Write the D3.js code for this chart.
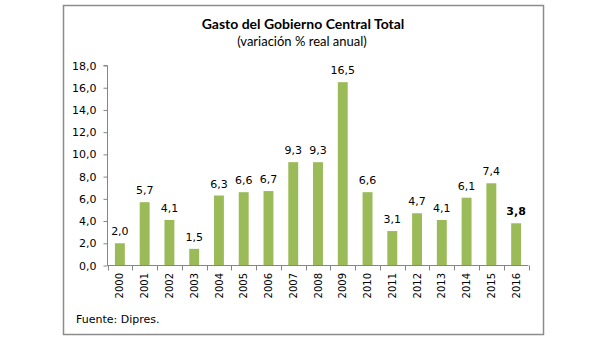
<!DOCTYPE html>
<html>
<head>
<meta charset="utf-8">
<script src="https://cdn.jsdelivr.net/npm/d3@7/dist/d3.min.js"></script>
<style>
  body { margin: 0; background: #fff; }
  svg { display: block; }
  .axis path, .axis line { stroke: #868686; }
</style>
</head>
<body>
<svg id="chart" width="608" height="340"></svg>
<script>
// gasto del gobierno central, variacion % real anual
var years = ["2000","2001","2002","2003","2004","2005","2006","2007","2008","2009","2010","2011","2012","2013","2014","2015","2016"];
var gasto = [2.0, 5.7, 4.1, 1.5, 6.3, 6.6, 6.7, 9.3, 9.3, 16.5, 6.6, 3.1, 4.7, 4.1, 6.1, 7.4, 3.8];
var yTicks = [0, 2, 4, 6, 8, 10, 12, 14, 16, 18];

var svg = d3.select("#chart");
var es = d3.formatLocale({decimal: ",", thousands: ".", grouping: [3], currency: ["$", ""]});
var fmt = es.format(".1f");

// marco del grafico
svg.append("rect")
  .attr("x", 63.5).attr("y", 5.5)
  .attr("width", 480).attr("height", 329)
  .attr("fill", "#fff")
  .attr("stroke", "#8c8c8c")
  .attr("stroke-width", 1.5);

svg.append("text")
  .attr("x", 303).attr("y", 29)
  .attr("text-anchor", "middle")
  .style("font-family", "Lato, sans-serif")
  .style("font-weight", "bold")
  .style("font-size", "14px")
  .text("Gasto del Gobierno Central Total");

svg.append("text")
  .attr("x", 302).attr("y", 46)
  .attr("text-anchor", "middle")
  .style("font-family", "Lato, sans-serif")
  .style("font-size", "13px")
  .text("(variación % real anual)");

var x = d3.scaleBand().domain(years).range([107.5, 528.5]).paddingInner(0.6).paddingOuter(0.3);
var y = d3.scaleLinear().domain([0, 18]).range([265.5, 65.5]);

var g = svg.append("g");

// eje y
var yAxis = d3.axisLeft(y).tickValues(yTicks).tickFormat(fmt).tickSize(4).tickPadding(7);
g.append("g")
  .attr("class", "y axis")
  .attr("transform", "translate(107.5,0)")
  .call(yAxis)
  .call(function(s) {
    s.select(".domain").attr("d", "M-4," + y(18) + "H0V" + y(0));
    s.selectAll("text").style("font-family", "'DejaVu Sans', sans-serif").style("font-size", "11px").attr("fill", "#000");
  });

// barras
g.selectAll("rect.bar").data(gasto).enter()
  .append("rect")
  .attr("class", "bar")
  .attr("x", function(d, i) { return x(years[i]); })
  .attr("y", function(d) { return y(d); })
  .attr("width", x.bandwidth())
  .attr("height", function(d) { return y(0) - y(d); })
  .attr("fill", "#9bbb59");

// eje x con marcas entre categorias
var x0 = 107.5;
g.append("line")
  .attr("x1", x0).attr("x2", 528.5)
  .attr("y1", y(0)).attr("y2", y(0))
  .attr("stroke", "#868686");
g.selectAll("line.xtick").data(d3.range(years.length + 1)).enter()
  .append("line")
  .attr("class", "xtick")
  .attr("x1", function(i) { return Math.round(x0 + i * (421 / years.length)) + 0.5; })
  .attr("x2", function(i) { return Math.round(x0 + i * (421 / years.length)) + 0.5; })
  .attr("y1", y(0)).attr("y2", y(0) + 5)
  .attr("stroke", "#868686");

g.selectAll("text.year").data(years).enter()
  .append("text")
  .attr("class", "year")
  .attr("transform", function(d) { return "translate(" + (x(d) + x.bandwidth() / 2) + ",273) rotate(-90)"; })
  .attr("text-anchor", "end")
  .attr("dy", "0.36em")
  .style("font-family", "'DejaVu Sans', sans-serif")
  .style("font-size", "10px")
  .text(function(d) { return d; });

// etiquetas de valor
g.selectAll("text.val").data(gasto).enter()
  .append("text")
  .attr("class", "val")
  .attr("x", function(d, i) { return x(years[i]) + x.bandwidth() / 2; })
  .attr("y", function(d) { return y(d) - 8; })
  .attr("text-anchor", "middle")
  .style("font-family", "'DejaVu Sans', sans-serif")
  .style("font-size", "11px")
  .style("font-weight", function(d, i) { return i === gasto.length - 1 ? "bold" : "normal"; })
  .text(function(d) { return fmt(d); });

svg.append("text")
  .attr("x", 76).attr("y", 323)
  .style("font-family", "'DejaVu Sans', sans-serif")
  .style("font-size", "11px")
  .text("Fuente:  Dipres.");
</script>
</body>
</html>
